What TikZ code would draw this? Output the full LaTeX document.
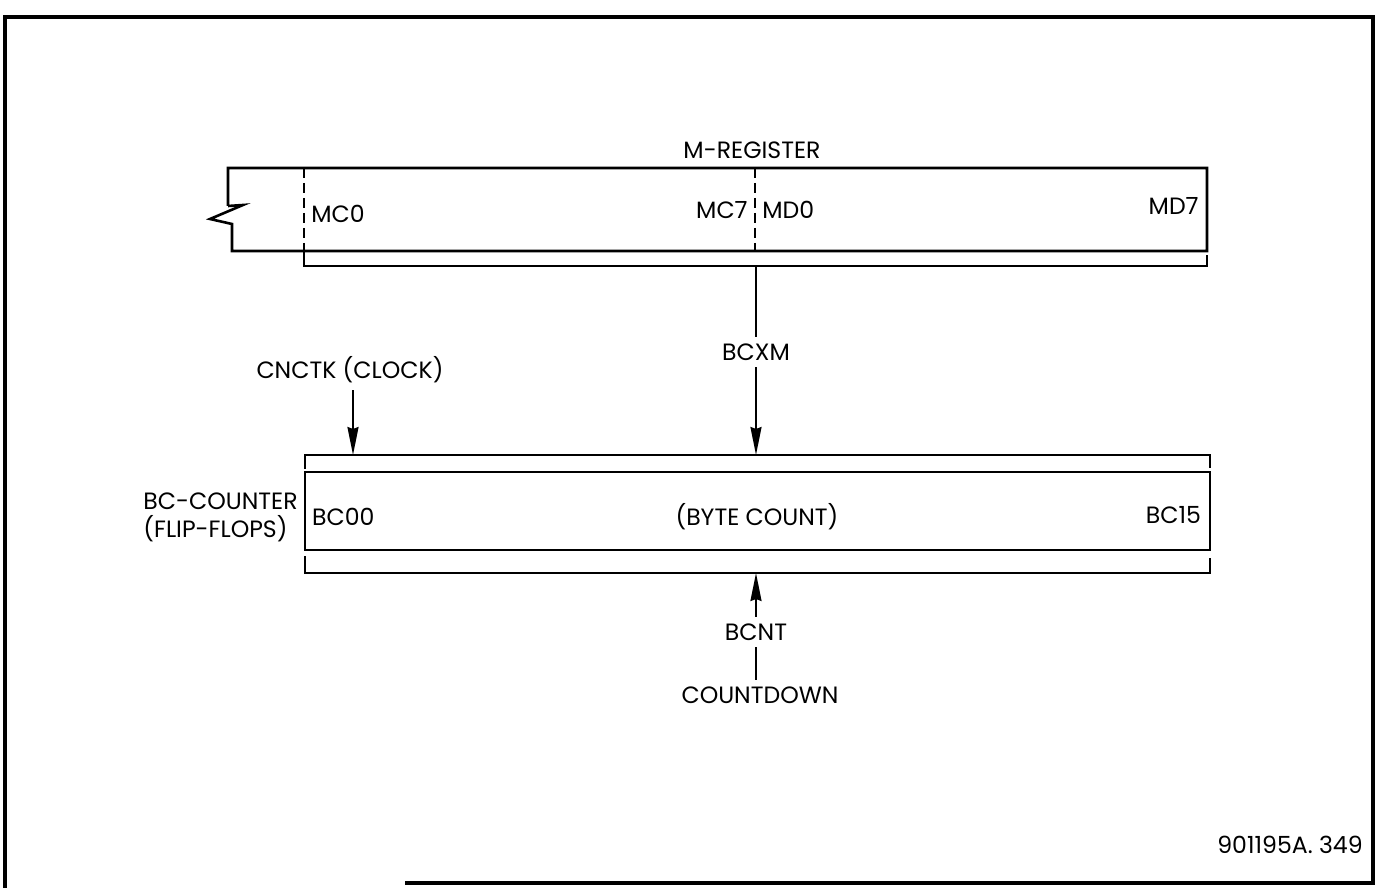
\documentclass[tikz,border=0pt]{standalone}
\usepackage{fontspec}
\setmainfont{Poppins}
\usepackage{tikz}
\usetikzlibrary{arrows.meta,calc,positioning}
\newcommand{\regfont}{\fontsize{11.8}{14}\selectfont}

\begin{document}
\begin{tikzpicture}[x=0.5pt, y=-0.5pt, >=Stealth, every node/.style={font=\regfont},
    reg/.style={line width=1.3pt},
    brk/.style={line width=1pt},
    split/.style={line width=1pt, dash pattern=on 5pt off 2.5pt},
    sig/.style={line width=1pt, -{Stealth[length=14pt,width=5.5pt,inset=1pt]}}]
\useasboundingbox (0,0) rectangle (1378,888);
\draw[line width=1.6pt] (5,888) -- (5,17) -- (1373,17) -- (1373,883) -- (405,883);

% M-register, broken off at the left
\draw[reg] (228,206) -- (228,168) -- (1207,168) -- (1207,251) -- (232,251)
    -- (232,224) -- (210,219) -- (243,205) -- (228,206);
\draw[split] (304,168) -- (304,251);
\draw[split] (755,168) -- (755,251);
\draw[brk] (304,251) -- (304,266) -- (1207,266) -- (1207,255);
\coordinate (mout) at (756,266);

\node (mreg) at (752,150) {M-REGISTER};
\node[right, inner sep=1pt] (mc0) at (309,214) {MC0};
\node[left, inner sep=1pt] (mc7) at (750,210) {MC7};
\node[right, inner sep=1pt] (md0) at (760,210) {MD0};
\node[left, inner sep=1pt] (md7) at (1201,206) {MD7};

% BC-counter
\node[reg, draw, minimum width=452.5pt, minimum height=39pt, inner sep=0pt]
    (bc) at (757.5,511) {};
\node (bytes) at (757,517) {(BYTE COUNT)};
\draw[brk] (305,469) -- (305,455) -- (1210,455) -- (1210,468);
\draw[brk] (305,556) -- (305,573) -- (1210,573) -- (1210,558);
\coordinate (clkin) at (353,455);
\coordinate (bcxmin) at (756,455);
\coordinate (bcntin) at (756,573);

\node[right, inner sep=1pt] (bc00) at ([xshift=3pt,yshift=-3pt]bc.west) {BC00};
\node[left, inner sep=1pt] (bc15) at ([xshift=-4pt,yshift=-2pt]bc.east) {BC15};
\node[left, align=left, inner sep=2pt] (bclbl) at (302,517) {BC-COUNTER\\(FLIP-FLOPS)};

% signals
\node (clk) at (350,370) {CNCTK (CLOCK)};
\node (bcxm) at (756,352) {BCXM};
\node (bcnt) at (756,632) {BCNT};
\node (cdown) at (760,695) {COUNTDOWN};

\draw[sig] (clkin |- clk.south) -- (clkin);
\draw[brk] (mout) -- (bcxm);
\draw[sig] (bcxm) -- (bcxmin);
\draw[brk] (cdown.north -| bcnt) -- (bcnt);
\draw[sig] (bcnt) -- (bcntin);

\node (figno) at (1290,845) {901195A. 349};
\end{tikzpicture}
\end{document}
